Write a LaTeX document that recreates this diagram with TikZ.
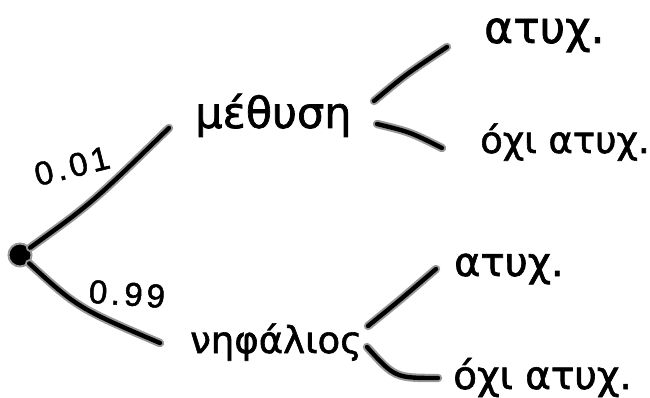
\documentclass[tikz,border=0pt]{standalone}
\usepackage{fontspec}
\setmainfont{DejaVu Sans}
\newfontfamily\hand{DejaVu Sans}[FakeBold=1.6]
\newfontfamily\numfont{Liberation Sans}[FakeBold=1.6, LetterSpace=12]
\tikzset{
  ink/.style={draw=black!40, line width=2pt, double=black, double distance=4.4pt, line cap=round, line join=round},
  word/.style={inner sep=0pt, anchor=base west},
  sz/.style={font=\hand\fontsize{#1}{#1}\selectfont},
  prob/.style={inner sep=0pt, font=\numfont\fontsize{33}{36}\selectfont}
}
\begin{document}
\begin{tikzpicture}[x=1pt, y=-1pt]
  \useasboundingbox (0,0) rectangle (650,398);

  % root of the tree
  \node[circle, fill=black, draw=black!40, line width=2pt, minimum size=23pt, inner sep=0pt] (root) at (20,255) {};

  % first level
  \node[word, sz=43] (drunk) at (195,128) {μέθυση};
  \node[word, sz=37] (sober) at (190,353) {νηφάλιος};

  % leaves
  \node[word, sz=44] (acc1) at (484,43) {ατυχ.};
  \node[word, sz=37] (noacc1) at (480,153) {όχι ατυχ.};
  \node[word, sz=40] (acc2) at (454,276) {ατυχ.};
  \node[word, sz=39] (noacc2) at (453,389) {όχι ατυχ.};

  % branch end points
  \coordinate (d-in) at (169,128);
  \coordinate (s-in) at (160,343);
  \coordinate (d-up) at (374,101);
  \coordinate (d-dn) at (377,124);
  \coordinate (s-up) at (368,326);
  \coordinate (s-dn) at (367,347);
  \coordinate (l1) at (447,47);
  \coordinate (l2) at (442,148);
  \coordinate (l3) at (436,269);
  \coordinate (l4) at (438,378);

  % branches
  \draw[ink] (root) .. controls (92,203) .. (d-in);
  \draw[ink] (root) .. controls (78,308) .. (s-in);
  \draw[ink] (d-up) .. controls (405,75) .. (l1);
  \draw[ink] (d-dn) .. controls (410,132) .. (l2);
  \draw[ink] (s-up) .. controls (400,300) .. (l3);
  \draw[ink] (s-dn) .. controls (395,378) .. (l4);

  % probabilities
  \node[prob, rotate=14] (p1) at (72,166) {0.01};
  \node[prob, rotate=-4] (p2) at (127,294) {0.99};
\end{tikzpicture}
\end{document}
